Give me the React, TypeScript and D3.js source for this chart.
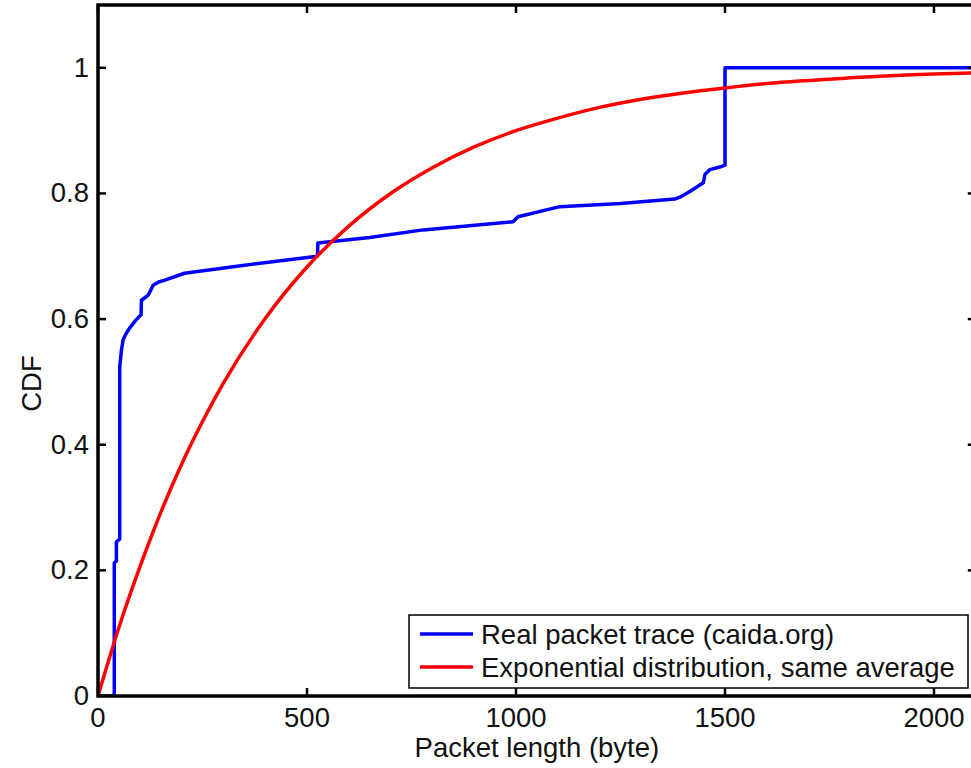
import React from 'react'
import * as d3 from 'd3'

const tracePoints: [number, number][] = [
  [0, 0], [37, 0], [39, 0.005], [39, 0.212], [44, 0.215], [44, 0.245], [52, 0.25],
  [52, 0.524], [56, 0.55], [60, 0.567], [68, 0.578], [76, 0.586], [90, 0.598],
  [103, 0.607], [104, 0.63], [112, 0.634], [120, 0.638], [132, 0.654], [145, 0.659],
  [160, 0.662], [207, 0.673], [319, 0.683], [437, 0.693], [510, 0.699], [525, 0.7],
  [526, 0.721], [650, 0.73], [778, 0.742], [993, 0.755], [1005, 0.763],
  [1105, 0.779], [1250, 0.784], [1380, 0.791], [1392, 0.794], [1416, 0.803],
  [1448, 0.817], [1452, 0.83], [1464, 0.838], [1475, 0.84], [1492, 0.843],
  [1500, 0.845], [1500, 1], [2100, 1]
]

// exponential fit
const expX = [0, 50, 100, 150, 200, 250, 300, 400, 500, 600, 700, 800, 900, 1000,
  1100, 1200, 1300, 1400, 1500, 1600, 1800, 2000, 2100]
const expY = [0, 0.109, 0.205, 0.292, 0.369, 0.437, 0.498, 0.601, 0.683, 0.748,
  0.8, 0.841, 0.874, 0.9, 0.92, 0.937, 0.95, 0.96, 0.968, 0.975, 0.984,
  0.99, 0.992]

const xTicks = [0, 500, 1000, 1500, 2000]
const yTicks = [0, 0.2, 0.4, 0.6, 0.8, 1]

const seriesNames = ['Real packet trace (caida.org)', 'Exponential distribution, same average']
const seriesColors = ['#0000ff', '#ff0000']

const W = 971
const H = 768
const margin = { top: 5, left: 98, bottom: 72 }
const font = 'Liberation Sans, Arial, Helvetica, sans-serif'
const fs = 27.5

const App = () => {
  const x = d3.scaleLinear().domain([0, 2100]).range([margin.left, margin.left + 2100 * 0.418])
  const y = d3.scaleLinear().domain([0, 1.1]).range([H - margin.bottom, margin.top])

  const line = d3.line<[number, number]>()
    .x(d => x(d[0]))
    .y(d => y(d[1]))

  const expLine = d3.line<[number, number]>()
    .x(d => x(d[0]))
    .y(d => y(d[1]))
    .curve(d3.curveMonotoneX)

  const expPoints: [number, number][] = expX.map((v, i) => [v, expY[i]])

  const x0 = x(0)
  const x1 = x(2100)
  const y0 = y(0)
  const y1 = y(1.1)
  const tick = 8

  const legX = 409
  const legY = 615

  return (
    <svg width={W} height={H} style={{ position: 'absolute', left: 0, top: 0, background: '#fff' }}
      fontFamily={font}>
      <defs>
        <clipPath id="plot">
          <rect x={x0} y={y1} width={x1 - x0} height={y0 - y1} />
        </clipPath>
      </defs>

      <g clipPath="url(#plot)">
        <path d={line(tracePoints) || ''} fill="none" stroke={seriesColors[0]} strokeWidth={3.5}
          strokeLinejoin="round" />
        <path d={expLine(expPoints) || ''} fill="none" stroke={seriesColors[1]} strokeWidth={3.5} />
      </g>

      {/* ticks, inward on all sides */}
      {xTicks.map(t => (
        <g key={'x' + t}>
          <line x1={x(t)} x2={x(t)} y1={y0} y2={y0 - tick} stroke="#000" strokeWidth={2.5} />
          <line x1={x(t)} x2={x(t)} y1={y1} y2={y1 + tick} stroke="#000" strokeWidth={2.5} />
          <text x={x(t)} y={y0 + 31} fontSize={fs} textAnchor="middle" fill="#111">{t}</text>
        </g>
      ))}
      {yTicks.map(t => (
        <g key={'y' + t}>
          <line x1={x0} x2={x0 + tick} y1={y(t)} y2={y(t)} stroke="#000" strokeWidth={2.5} />
          <line x1={x1} x2={x1 - tick} y1={y(t)} y2={y(t)} stroke="#000" strokeWidth={2.5} />
          <text x={x0 - 9} y={y(t) + 9} fontSize={fs} textAnchor="end" fill="#111">{String(t)}</text>
        </g>
      ))}

      <rect x={x0} y={y1} width={x1 - x0} height={y0 - y1} fill="none" stroke="#000" strokeWidth={3.5} />

      <text x={(x0 + x1) / 2} y={757} fontSize={fs} textAnchor="middle" fill="#111">Packet length (byte)</text>
      <text transform={`translate(41,${(y0 + y1) / 2 + 33}) rotate(-90)`} fontSize={fs} textAnchor="middle"
        fill="#111">CDF</text>

      {/* legend */}
      <rect x={legX} y={legY} width={559} height={73} fill="#fff" stroke="#000" strokeWidth={1.5} />
      {seriesNames.map((name, i) => (
        <g key={name}>
          <line x1={legX + 11} x2={legX + 64} y1={legY + 19 + i * 33} y2={legY + 19 + i * 33}
            stroke={seriesColors[i]} strokeWidth={3.5} />
          <text x={legX + 72} y={legY + 29 + i * 33} fontSize={fs} fill="#111">{name}</text>
        </g>
      ))}
    </svg>
  )
}

export default App
